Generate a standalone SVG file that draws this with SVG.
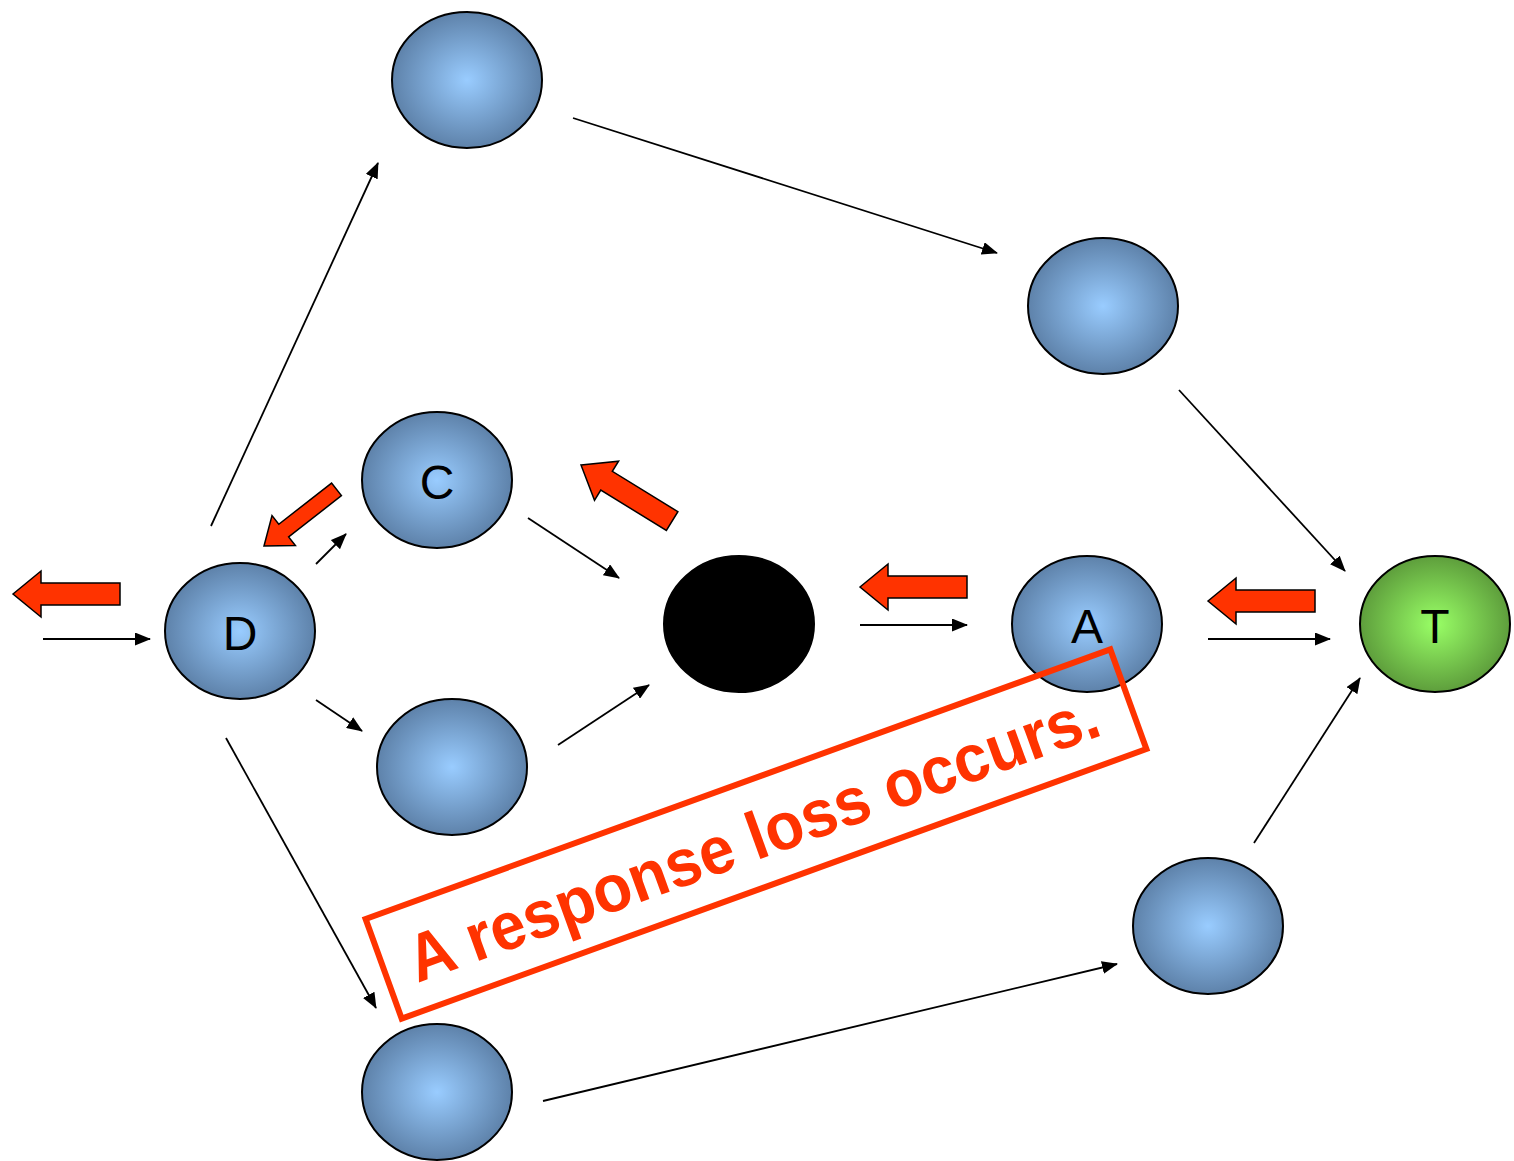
<svg xmlns="http://www.w3.org/2000/svg" width="1514" height="1161" viewBox="0 0 1514 1161">
<style>
.node{stroke:#000;stroke-width:2}
.blue{fill:url(#gb)}
.green{fill:url(#gg)}
.lbl{font-family:"Liberation Sans",Arial,sans-serif;font-size:48px;fill:#000;text-anchor:middle;dominant-baseline:central}
.edge{stroke:#000;stroke-width:1.8;fill:none;marker-end:url(#ah)}
.red{fill:#FF3300;stroke:#000;stroke-width:1.5;stroke-linejoin:miter}
.note{font-family:"Liberation Sans",Arial,sans-serif;font-weight:bold;font-size:67px;fill:#FF3300;text-anchor:middle}
</style>
<defs>
<radialGradient id="gb" cx="50%" cy="50%" r="50%">
<stop offset="0" stop-color="#99CCFF"/>
<stop offset="1" stop-color="#5E82AA"/>
</radialGradient>
<radialGradient id="gg" cx="50%" cy="50%" r="50%">
<stop offset="0" stop-color="#99FF66"/>
<stop offset="1" stop-color="#5E9E3C"/>
</radialGradient>
<marker id="ah" markerWidth="16" markerHeight="13" refX="15" refY="6.5" orient="auto" markerUnits="userSpaceOnUse">
<path d="M0,0 L16,6.5 L0,13 Z" fill="#000"/>
</marker>
<polygon id="bigL" points="0,0 28,-23 28,-11 107,-11 107,11 28,11 28,23"/>
</defs>
<rect width="1514" height="1161" fill="#fff"/>
<g id="connectors">
<line class="edge" x1="43" y1="639" x2="150" y2="639"/>
<line class="edge" x1="211" y1="526" x2="378" y2="163"/>
<line class="edge" x1="573" y1="118" x2="997" y2="253"/>
<line class="edge" x1="1179" y1="390" x2="1345" y2="571"/>
<line class="edge" x1="316" y1="564" x2="346" y2="534"/>
<line class="edge" x1="316" y1="700" x2="362" y2="731"/>
<line class="edge" x1="528" y1="518" x2="619" y2="578"/>
<line class="edge" x1="558" y1="745" x2="649" y2="685"/>
<line class="edge" x1="860" y1="625" x2="967" y2="625"/>
<line class="edge" x1="1208" y1="639" x2="1330" y2="639"/>
<line class="edge" x1="226" y1="738" x2="376" y2="1008"/>
<line class="edge" x1="543" y1="1101" x2="1117" y2="964"/>
<line class="edge" x1="1254" y1="843" x2="1360" y2="678"/>
</g>
<g id="node-top"><ellipse class="node blue" cx="467" cy="80" rx="75" ry="68"/></g>
<g id="node-ur"><ellipse class="node blue" cx="1103" cy="306" rx="75" ry="68"/></g>
<g id="node-C"><ellipse class="node blue" cx="437" cy="480" rx="75" ry="68"/><text class="lbl" x="437" y="482">C</text></g>
<g id="node-D"><ellipse class="node blue" cx="240" cy="631" rx="75" ry="68"/><text class="lbl" x="240" y="633">D</text></g>
<g id="node-lm"><ellipse class="node blue" cx="452" cy="767" rx="75" ry="68"/></g>
<g id="node-black"><ellipse class="node" fill="#000" cx="739" cy="624" rx="75" ry="68"/></g>
<g id="node-A"><ellipse class="node blue" cx="1087" cy="624" rx="75" ry="68"/><text class="lbl" x="1087" y="626">A</text></g>
<g id="node-T"><ellipse class="node green" cx="1435" cy="624" rx="75" ry="68"/><text class="lbl" x="1435" y="626">T</text></g>
<g id="node-lr"><ellipse class="node blue" cx="1208" cy="926" rx="75" ry="68"/></g>
<g id="node-bottom"><ellipse class="node blue" cx="437" cy="1092" rx="75" ry="68"/></g>
<g id="red-arrows">
<use href="#bigL" class="red" transform="translate(13,594)"/>
<use href="#bigL" class="red" transform="translate(860,587)"/>
<use href="#bigL" class="red" transform="translate(1208,601)"/>
<polygon class="red" transform="translate(264,546) rotate(-38)" points="0,0 25,-19 25,-8 92,-8 92,8 25,8 25,19"/>
<polygon class="red" transform="translate(581,465) rotate(31.6)" points="0,0 30,-23 30,-11 107,-11 107,11 30,11 30,23"/>
</g>
<g id="note" transform="translate(756,834) rotate(-19.9)">
<rect x="-396" y="-53" width="792" height="106" fill="none" stroke="#FF3300" stroke-width="6"/>
<text class="note" x="-4" y="25" textLength="730" lengthAdjust="spacingAndGlyphs">A response loss occurs.</text>
</g>
</svg>
